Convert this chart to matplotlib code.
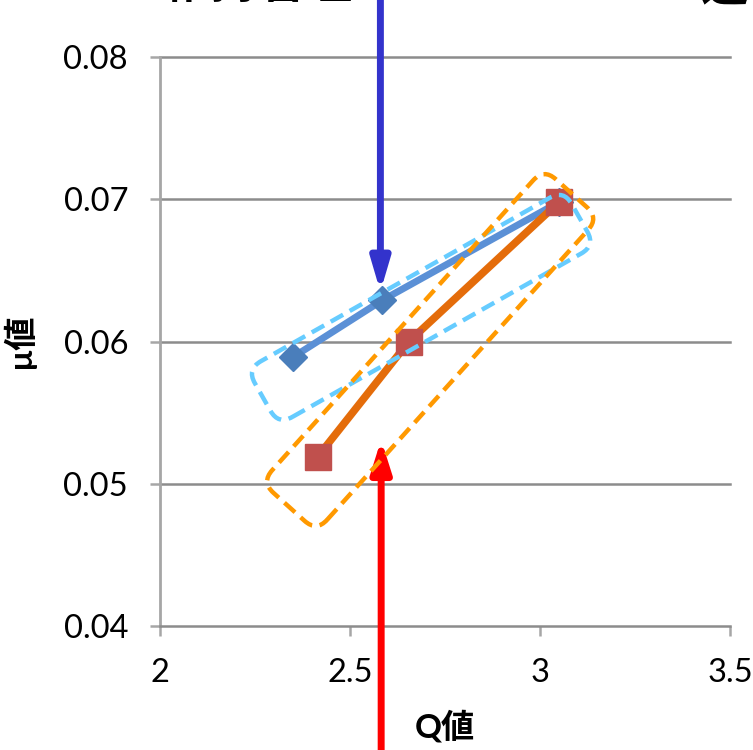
import numpy as np
import matplotlib
matplotlib.use("Agg")
import matplotlib.pyplot as plt
from matplotlib.patches import FancyBboxPatch
from matplotlib.transforms import Affine2D

plt.rcParams['font.family'] = ['Lato', 'Noto Sans CJK JP', 'DejaVu Sans']

# 系列データ (Q値, μ値)
q_blue = [2.35, 2.585, 3.05]
mu_blue = [0.0589, 0.0629, 0.0698]
q_red = [2.415, 2.655, 3.05]
mu_red = [0.0519, 0.0600, 0.0698]

x_ticks = [2, 2.5, 3, 3.5]
x_labels = ['2', '2.5', '3', '3.5']
y_ticks = [0.04, 0.05, 0.06, 0.07, 0.08]
y_labels = ['0.04', '0.05', '0.06', '0.07', '0.08']

# 囲み枠: 中心(データ座標), 長さ・幅(px), 角度(度)
box_blue = dict(center=(2.687, 0.0624), length=364, width=64, angle=29.5, color='#66CCFF')
box_red = dict(center=(2.711, 0.0594), length=422, width=74, angle=48.0, color='#FF9900')

W, H = 753, 750
fig = plt.figure(figsize=(W / 100, H / 100), dpi=100)
ax = fig.add_axes([160 / W, (H - 626) / H, (730 - 160) / W, (626 - 57) / H])

ax.set_xlim(2, 3.5)
ax.set_ylim(0.04, 0.08)
ax.set_xticks(x_ticks, x_labels)
ax.set_yticks(y_ticks, y_labels)

grid_c = '#8C8C8C'
for y in y_ticks[1:]:
    ax.axhline(y, color=grid_c, lw=1.8, zorder=1, clip_on=False)
for s in ['top', 'right']:
    ax.spines[s].set_visible(False)
ax.spines['left'].set_color('#A6A6A6')
ax.spines['left'].set_linewidth(2)
ax.spines['bottom'].set_color(grid_c)
ax.spines['bottom'].set_linewidth(1.8)
ax.tick_params(direction='out', length=7, width=1.8, color='#A6A6A6', labelsize=23.5)
ax.tick_params(axis='y', pad=16)
ax.tick_params(axis='x', pad=16)

ax.set_xlabel('Q値', fontsize=24, fontweight='bold', labelpad=16)
ax.set_ylabel('μ値', fontsize=24, fontweight='bold', labelpad=20)

ax.plot(q_blue, mu_blue, color='#5B90D6', lw=5, zorder=3)
ax.plot(q_blue, mu_blue, 'D', color='#4A7EBB', ms=14, zorder=4)
ax.plot(q_red, mu_red, color='#E46C0A', lw=5.5, zorder=5)
ax.plot(q_red, mu_red, 's', color='#C0504D', ms=19, zorder=6)

# 破線の角丸枠
for b in [box_blue, box_red]:
    cx, cy = ax.transData.transform(b['center'])
    L, Wd = b['length'], b['width']
    patch = FancyBboxPatch((cx - L / 2, cy - Wd / 2), L, Wd,
                           boxstyle='round,pad=0,rounding_size=16',
                           fill=False, ec=b['color'], lw=3.2, ls=(0, (3.2, 1.7)),
                           transform=Affine2D().rotate_deg_around(cx, cy, b['angle']),
                           zorder=7)
    fig.add_artist(patch)

# 矢印
ax.annotate('', xy=(2.58, 0.0635), xytext=(2.58, 0.0845),
            arrowprops=dict(arrowstyle='-|>,head_length=0.95,head_width=0.28',
                            color='#3333CC', lw=5, shrinkA=0, shrinkB=0, mutation_scale=20),
            annotation_clip=False, zorder=8)
ax.annotate('', xy=(2.582, 0.0531), xytext=(2.582, 0.0310),
            arrowprops=dict(arrowstyle='-|>,head_length=0.95,head_width=0.3',
                            color='#FF0000', lw=5, shrinkA=0, shrinkB=0, mutation_scale=20),
            annotation_clip=False, zorder=8)

# 上端の見出し（一部のみ表示）
fig.text(163 / W, 1 + 2 / H, '維持管理', fontsize=34, fontweight='bold', va='baseline', ha='left')
fig.text(700 / W, 1 - 1 / H, '通', fontsize=34, fontweight='bold', va='baseline', ha='left')

fig.savefig('out.png', dpi=100)
